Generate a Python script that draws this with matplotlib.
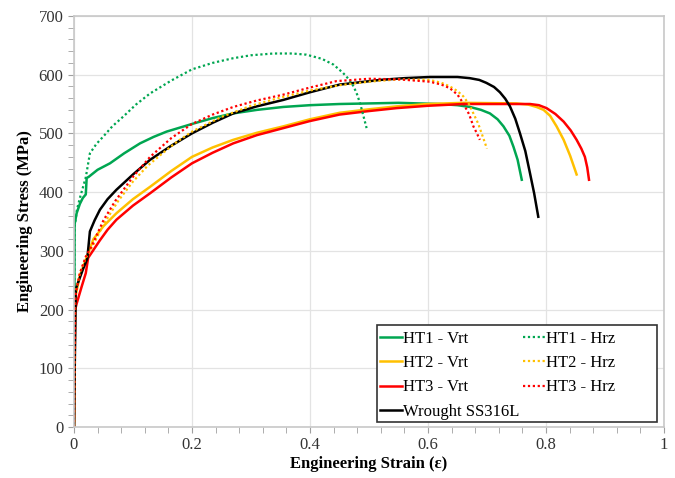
"""Engineering stress-strain curves, HT1/HT2/HT3 vs wrought SS316L"""

import matplotlib as mpl
import matplotlib.pyplot as plt
from matplotlib import ticker
from matplotlib.patches import Rectangle

mpl.rcParams.update({
    "font.family": "Liberation Serif",
    "font.size": 11,
    "axes.linewidth": 1,
})

# data (strain [-], stress [MPa])
ht1_vrt_strain = [0, 0.001, 0.0045, 0.01, 0.015, 0.02, 0.0215, 0.025, 0.04, 0.061,
                  0.085, 0.112, 0.135, 0.157, 0.2, 0.235, 0.27, 0.31, 0.355, 0.4,
                  0.45, 0.55, 0.62, 0.65, 0.671, 0.69, 0.705, 0.718, 0.728, 0.738,
                  0.745, 0.752, 0.759]
ht1_vrt_stress = [0, 345, 364, 380, 390, 396, 424, 426, 438, 449,
                  466, 483, 494, 503, 516, 526, 534, 540, 545, 548,
                  550, 552, 550, 548, 545, 540, 534, 524, 512, 496,
                  477, 455, 421]

ht1_hrz_strain = [0, 0.001, 0.005, 0.01, 0.02, 0.027, 0.038, 0.05, 0.065, 0.084,
                  0.105, 0.129, 0.165, 0.2, 0.235, 0.27, 0.3, 0.338, 0.37, 0.394,
                  0.42, 0.44, 0.456, 0.466, 0.474, 0.48, 0.485, 0.49, 0.496]
ht1_hrz_stress = [0, 340, 370, 390, 425, 466, 482, 495, 512, 529,
                  549, 568, 590, 609, 620, 628, 633, 636, 636, 634,
                  627, 617, 603, 592, 580, 566, 551, 532, 509]

ht2_vrt_strain = [0, 0.002, 0.01, 0.02, 0.033, 0.05, 0.072, 0.1, 0.129, 0.165,
                  0.2, 0.235, 0.27, 0.31, 0.355, 0.4, 0.45, 0.5, 0.547, 0.6,
                  0.66, 0.75, 0.77, 0.784, 0.796, 0.807, 0.818, 0.83, 0.841, 0.852]
ht2_vrt_stress = [0, 220, 258, 285, 320, 342, 364, 388, 409, 436,
                  460, 476, 489, 501, 512, 524, 535, 541, 546, 550,
                  552, 551, 549, 545, 540, 530, 512, 489, 462, 430]

ht2_hrz_strain = [0, 0.002, 0.01, 0.02, 0.03, 0.05, 0.075, 0.1, 0.125, 0.15,
                  0.175, 0.2, 0.25, 0.3, 0.35, 0.4, 0.45, 0.5, 0.55, 0.603,
                  0.623, 0.637, 0.65, 0.66, 0.67, 0.677, 0.685, 0.691, 0.7]
ht2_hrz_stress = [0, 225, 262, 288, 305, 345, 385, 418, 445, 466,
                  486, 503, 528, 547, 561, 573, 582, 588, 592, 591,
                  586, 580, 572, 563, 549, 534, 517, 500, 474]

ht3_vrt_strain = [0, 0.002, 0.0045, 0.013, 0.02, 0.024, 0.044, 0.057, 0.072, 0.1,
                  0.129, 0.165, 0.2, 0.235, 0.27, 0.31, 0.355, 0.4, 0.45, 0.5,
                  0.547, 0.6, 0.66, 0.773, 0.788, 0.801, 0.816, 0.83, 0.842, 0.852,
                  0.86, 0.866, 0.87, 0.873]
ht3_vrt_stress = [0, 200, 210, 239, 262, 288, 318, 336, 353, 377,
                  398, 425, 449, 467, 483, 497, 509, 521, 532, 538,
                  543, 547, 550, 550, 548, 543, 533, 520, 505, 489,
                  474, 460, 442, 421]

ht3_hrz_strain = [0, 0.002, 0.01, 0.02, 0.03, 0.05, 0.07, 0.1, 0.129, 0.165,
                  0.2, 0.235, 0.27, 0.31, 0.355, 0.4, 0.445, 0.5, 0.55, 0.603,
                  0.623, 0.637, 0.65, 0.66, 0.67, 0.677, 0.683, 0.688]
ht3_hrz_stress = [0, 222, 262, 290, 308, 352, 385, 426, 460, 492,
                  516, 532, 545, 556, 566, 578, 589, 593, 592, 588,
                  583, 577, 566, 551, 532, 512, 500, 489]

wrought_strain = [0, 0.003, 0.0073, 0.015, 0.0226, 0.027, 0.035, 0.044, 0.057, 0.072,
                  0.1, 0.129, 0.165, 0.2, 0.235, 0.27, 0.31, 0.355, 0.4, 0.45,
                  0.519, 0.56, 0.603, 0.65, 0.671, 0.687, 0.699, 0.712, 0.722, 0.731,
                  0.739, 0.748, 0.756, 0.765, 0.773, 0.78, 0.787]
wrought_stress = [0, 235, 247, 268, 287, 333, 352, 370, 388, 404,
                  430, 455, 479, 500, 518, 534, 546, 557, 570, 583,
                  591, 594, 596, 596, 594, 591, 586, 579, 570, 559,
                  546, 525, 500, 470, 432, 398, 358]

green = "#00A651"
orange = "#FFC000"
red = "#FF0000"

figure = plt.figure(figsize=(6.75, 4.78), dpi=100)
axes = figure.add_axes([0.1096, 0.1067, 0.874, 0.86])

lw = 1.8
dots = (0, (1, 1.2))
axes.plot(ht1_vrt_strain, ht1_vrt_stress, color=green, lw=lw, label="HT1 - Vrt")
axes.plot(ht2_vrt_strain, ht2_vrt_stress, color=orange, lw=lw, label="HT2 - Vrt")
axes.plot(ht3_vrt_strain, ht3_vrt_stress, color=red, lw=lw, label="HT3 - Vrt")
axes.plot(wrought_strain, wrought_stress, color="black", lw=lw, label="Wrought SS316L")
axes.plot(ht1_hrz_strain, ht1_hrz_stress, color=green, lw=1.6, ls=dots, label="HT1 - Hrz")
axes.plot(ht2_hrz_strain, ht2_hrz_stress, color=orange, lw=1.6, ls=dots, label="HT2 - Hrz")
axes.plot(ht3_hrz_strain, ht3_hrz_stress, color=red, lw=1.6, ls=dots, label="HT3 - Hrz")

axes.set_xlim(0, 1)
axes.set_ylim(0, 700)
axes.xaxis.set_major_locator(ticker.MultipleLocator(0.2))
axes.xaxis.set_minor_locator(ticker.MultipleLocator(0.04))
axes.yaxis.set_major_locator(ticker.MultipleLocator(100))
axes.yaxis.set_minor_locator(ticker.MultipleLocator(20))
axes.xaxis.set_major_formatter(ticker.FuncFormatter(lambda v, p: "{:g}".format(v)))
axes.grid(True, which="major", color="#e3e3e3", lw=0.9)
axes.set_axisbelow(True)
for spine in axes.spines.values():
    spine.set_color("#c8c8c8")
    spine.set_linewidth(1.2)
axes.tick_params(which="both", direction="out", color="#a0a0a0", labelsize=12,
                 labelcolor="#333333")
axes.tick_params(which="major", length=4)
axes.tick_params(which="minor", length=4)

axes.set_xlabel("Engineering Strain (ε)", fontweight="bold", fontsize=12, labelpad=2)
axes.set_ylabel("Engineering Stress (MPa)", fontweight="bold", fontsize=12, labelpad=4)

# legend entries without frame, frame drawn separately (wide right margin)
legend = axes.legend(ncol=2, loc="upper left", bbox_to_anchor=(0.5186, 0.234),
                     fontsize=12, handlelength=1.32, handletextpad=0.08,
                     columnspacing=0.2, labelspacing=0.5, borderpad=0,
                     borderaxespad=0, frameon=False)
axes.add_patch(Rectangle((0.514, 0.0129), 0.474, 0.235, transform=axes.transAxes,
                         facecolor="white", edgecolor="#333333", lw=1.2, zorder=4))
legend.set_zorder(5)

plt.savefig("out.png", dpi=100)
